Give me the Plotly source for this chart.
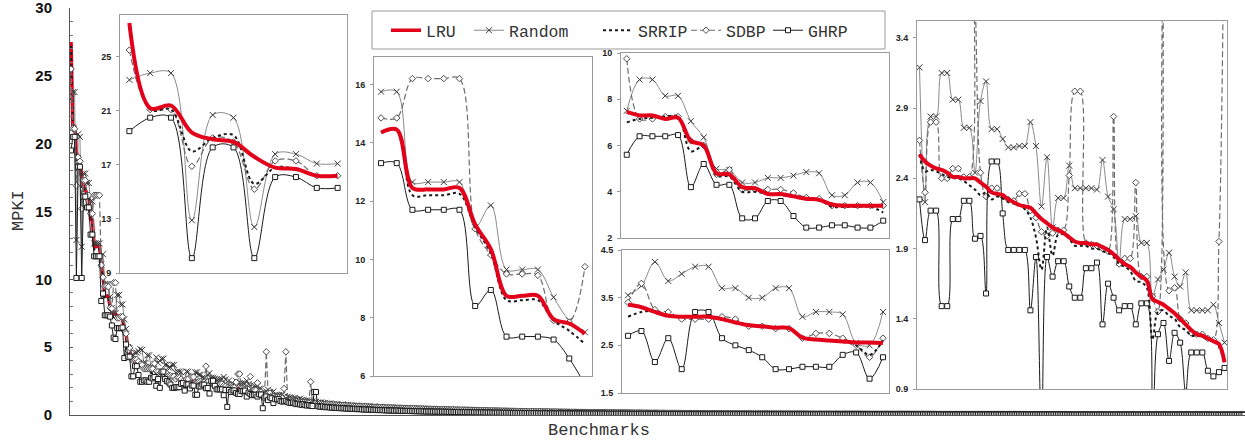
import plotly.graph_objects as go

# ---------------- data (MPKI per benchmark, sorted by LRU) ----------------
# Inset A : benchmarks 1-11
LRU_A = [27.5, 21.2, 21.4, 19.4, 18.9, 18.7, 17.6, 16.8, 16.7, 16.2, 16.2]
RANDOM_A = [23.3, 23.8, 23.8, 12.9, 20.7, 20.5, 12.4, 17.8, 17.8, 17.1, 17.1]
SRRIP_A = [27.2, 21.1, 21.1, 18.0, 19.0, 19.2, 15.6, 16.8, 16.7, 16.2, 16.2]
SDBP_A = [25.5, 21.1, 21.1, 16.9, 19.0, 18.7, 15.2, 17.3, 17.3, 16.2, 16.2]
GHRP_A = [19.5, 20.5, 20.5, 10.1, 18.3, 18.3, 10.1, 16.1, 16.1, 15.3, 15.3]

# Inset B : benchmarks 12-25
LRU_B = [14.35, 14.45, 12.45, 12.4, 12.4, 12.45, 11.2, 10.35, 8.75, 8.75, 8.75, 7.95, 7.8, 7.45]
RANDOM_B = [15.75, 15.75, 12.65, 12.65, 12.65, 12.65, 11.1, 11.85, 9.65, 9.65, 9.65, 8.7, 7.9, 7.5]
SRRIP_B = [14.35, 14.45, 12.2, 12.2, 12.2, 12.25, 11.1, 10.2, 8.6, 8.6, 8.6, 7.9, 7.55, 7.1]
SDBP_B = [14.85, 14.85, 16.2, 16.2, 16.2, 16.2, 11.05, 10.15, 9.5, 9.5, 9.45, 7.9, 7.85, 9.75]
GHRP_B = [13.3, 13.3, 11.7, 11.7, 11.7, 11.7, 8.4, 8.95, 7.35, 7.35, 7.35, 7.25, 6.6, 5.7]

# Inset C : benchmarks 26-46
LRU_C = [7.45, 7.3, 7.3, 7.15, 7.2, 6.2, 6.0, 4.8, 4.75, 4.2, 4.15, 3.9, 3.9, 3.8, 3.7, 3.65, 3.45, 3.4, 3.4, 3.4, 3.4]
RANDOM_C = [7.5, 8.85, 8.85, 8.15, 8.15, 7.05, 6.35, 5.0, 4.95, 4.4, 4.4, 4.6, 4.6, 4.7, 4.85, 4.8, 3.85, 3.85, 4.4, 4.4, 3.55]
SRRIP_C = [7.0, 7.15, 7.2, 7.25, 7.25, 5.75, 5.95, 4.7, 4.65, 4.0, 4.0, 3.9, 3.85, 3.8, 3.7, 3.65, 3.35, 3.35, 3.35, 3.35, 3.1]
SDBP_C = [9.75, 7.15, 7.15, 7.25, 7.25, 6.2, 6.0, 4.75, 4.95, 4.1, 4.1, 4.1, 4.1, 3.95, 3.75, 3.7, 3.4, 3.4, 3.4, 3.4, 3.4]
GHRP_C = [5.6, 6.4, 6.4, 6.4, 6.45, 4.2, 5.2, 4.3, 4.3, 2.85, 2.85, 3.6, 3.6, 2.95, 2.45, 2.45, 2.55, 2.55, 2.45, 2.45, 2.75]

# Inset D : benchmarks 47-66
LRU_D = [3.35, 3.3, 3.2, 3.12, 3.1, 3.1, 3.1, 3.05, 2.98, 2.92, 2.9, 2.87, 2.86, 2.66, 2.62, 2.6, 2.58, 2.56, 2.56, 2.55]
RANDOM_D = [3.55, 3.75, 4.25, 3.85, 4.0, 4.15, 4.15, 3.7, 3.7, 3.5, 3.5, 3.7, 3.7, 3.1, 3.2, 3.2, 3.15, 2.55, 2.5, 3.2]
SRRIP_D = [3.1, 3.2, 3.22, 3.12, 3.1, 3.1, 3.1, 3.05, 2.98, 2.92, 2.9, 2.87, 2.86, 2.66, 2.62, 2.6, 2.58, 2.5, 2.3, 2.6]
SDBP_D = [3.4, 3.8, 3.25, 3.2, 3.05, 3.05, 3.05, 3.1, 3.05, 2.9, 2.9, 2.85, 2.85, 2.65, 2.75, 2.75, 2.65, 2.5, 2.25, 2.65]
GHRP_D = [2.7, 2.8, 2.15, 2.65, 2.0, 3.2, 3.2, 2.65, 2.5, 2.4, 2.25, 2.0, 2.0, 2.05, 2.05, 2.05, 2.3, 2.35, 1.8, 2.25]

# Inset E : benchmarks 67-122
LRU_E = [2.57, 2.52, 2.49, 2.47, 2.46, 2.44, 2.41, 2.41, 2.40, 2.40,
         2.40, 2.37, 2.34, 2.30, 2.29, 2.28, 2.25, 2.23, 2.21, 2.20,
         2.19, 2.15, 2.11, 2.08, 2.05, 2.03, 2.01, 1.98, 1.95, 1.94,
         1.94, 1.93, 1.93, 1.91, 1.89, 1.86, 1.82, 1.79, 1.77, 1.73,
         1.70, 1.67, 1.54, 1.52, 1.50, 1.47, 1.44, 1.40, 1.36, 1.32,
         1.29, 1.28, 1.26, 1.24, 1.22, 1.09]
RANDOM_E = [3.19, 2.23, 2.84, 2.84, 3.15, 3.15, 2.96, 2.96, 2.76, 2.76,
            2.44, 2.95, 3.09, 2.75, 2.75, 2.68, 2.62, 2.62, 2.63, 2.63,
            2.80, 2.63, 2.20, 2.55, 2.05, 2.26, 2.26, 2.49, 2.33, 2.33,
            2.33, 2.33, 2.32, 2.53, 2.27, 2.18, 1.80, 2.11, 2.11, 2.13,
            1.94, 1.94, 1.56, 1.68, 1.75, 1.87, 1.70, 1.63, 1.73, 1.46,
            1.46, 1.46, 1.46, 1.50, 1.37, 1.23]
SRRIP_E = [2.57, 2.45, 2.46, 2.45, 2.43, 2.41, 2.40, 2.40, 2.38, 2.35,
           2.32, 2.28, 2.30, 2.25, 2.27, 2.26, 2.23, 2.22, 2.21, 2.18,
           2.12, 1.98, 1.75, 2.05, 1.85, 2.00, 2.00, 1.97, 1.92, 1.92,
           1.92, 1.90, 1.90, 1.88, 1.87, 1.84, 1.79, 1.77, 1.74, 1.67,
           1.66, 1.62, 1.25, 1.45, 1.46, 1.42, 1.40, 1.34, 1.32, 1.28,
           1.28, 1.27, 1.25, 1.24, 1.20, 1.10]
SDBP_E = [2.67, 2.30, 2.80, 2.80, 2.40, 2.40, 2.47, 2.47, 2.41, 2.41,
          3.60, 2.44, 2.27, 2.33, 2.33, 2.27, 2.25, 2.24, 2.29, 2.29,
          2.17, 2.12, 2.02, 1.99, 2.01, 2.03, 2.03, 2.42, 3.02, 3.02,
          1.94, 1.93, 1.92, 1.90, 1.88, 2.84, 1.79, 1.83, 1.83, 2.37,
          1.70, 1.70, 1.56, 1.45, 4.66, 1.60, 1.62, 1.40, 1.37, 1.30,
          1.29, 1.29, 1.26, 1.25, 1.95, 4.66]
GHRP_E = [2.25, 1.96, 2.17, 2.17, 1.49, 1.49, 2.11, 2.11, 2.24, 2.24,
          1.97, 1.99, 1.58, 2.52, 2.52, 2.15, 1.89, 1.89, 1.89, 1.89,
          1.46, 1.84, 0.60, 1.84, 1.70, 1.81, 1.81, 1.63, 1.55, 1.55,
          1.76, 1.76, 1.80, 1.36, 1.65, 1.55, 1.46, 1.49, 1.49, 1.36,
          1.51, 1.51, 0.50, 1.29, 1.37, 1.10, 1.30, 1.23, 0.88, 1.16,
          1.16, 1.16, 1.03, 0.99, 1.02, 1.05]

# Tail part 1 : benchmarks 123-222
LRU_T1 = [1.06, 1.04, 1.02, 1.00, 0.98, 0.97, 0.95, 0.94, 0.92, 0.91, 0.90, 0.88, 0.87, 0.86, 0.85, 0.84, 0.83, 0.82, 0.81, 0.80,
          0.79, 0.78, 0.77, 0.76, 0.75, 0.74, 0.73, 0.72, 0.71, 0.70, 0.69, 0.69, 0.68, 0.67, 0.66, 0.65, 0.65, 0.64, 0.63, 0.62,
          0.62, 0.61, 0.60, 0.60, 0.59, 0.58, 0.58, 0.57, 0.56, 0.56, 0.55, 0.55, 0.54, 0.53, 0.53, 0.52, 0.52, 0.51, 0.51, 0.50,
          0.50, 0.49, 0.49, 0.48, 0.48, 0.47, 0.47, 0.46, 0.46, 0.45, 0.45, 0.45, 0.44, 0.44, 0.43, 0.43, 0.43, 0.42, 0.42, 0.41,
          0.41, 0.41, 0.40, 0.40, 0.40, 0.39, 0.39, 0.39, 0.38, 0.38, 0.38, 0.37, 0.37, 0.37, 0.36, 0.36, 0.36, 0.35, 0.35, 0.35]
RANDOM_T1 = [1.35, 1.30, 1.28, 1.22, 1.25, 1.18, 1.15, 1.20, 1.12, 1.10, 1.05, 1.08, 1.02, 0.98, 1.00, 0.95, 0.97, 0.92, 0.90, 0.93,
             0.88, 0.90, 0.85, 0.83, 0.86, 0.80, 0.82, 0.78, 0.80, 0.76, 0.75, 0.78, 0.73, 0.72, 0.74, 0.70, 0.71, 0.69, 0.68, 0.70,
             0.67, 0.66, 0.68, 0.64, 0.65, 0.63, 0.64, 0.62, 0.61, 0.63, 0.60, 0.59, 0.61, 0.58, 0.57, 0.59, 0.56, 0.56, 0.57, 0.55,
             0.55, 0.54, 0.55, 0.53, 0.52, 0.53, 0.51, 0.51, 0.52, 0.50, 0.50, 0.49, 0.50, 0.48, 0.48, 0.49, 0.47, 0.47, 0.47, 0.46,
             0.46, 0.45, 0.46, 0.44, 0.44, 0.45, 0.43, 0.43, 0.43, 0.42, 0.42, 0.41, 0.42, 0.40, 0.40, 0.41, 0.39, 0.39, 0.39, 0.38]
SRRIP_T1 = [1.02, 1.01, 0.98, 0.97, 0.95, 0.95, 0.92, 0.92, 0.90, 0.89, 0.87, 0.86, 0.85, 0.84, 0.83, 0.82, 0.81, 0.80, 0.79, 0.78,
            0.77, 0.76, 0.75, 0.74, 0.73, 0.72, 0.71, 0.70, 0.69, 0.69, 0.68, 0.67, 0.66, 0.66, 0.65, 0.64, 0.63, 0.63, 0.62, 0.61,
            0.61, 0.60, 0.59, 0.59, 0.58, 0.57, 0.57, 0.56, 0.56, 0.55, 0.54, 0.54, 0.53, 0.53, 0.52, 0.52, 0.51, 0.51, 0.50, 0.50,
            0.49, 0.49, 0.48, 0.48, 0.47, 0.47, 0.46, 0.46, 0.45, 0.45, 0.44, 0.44, 0.44, 0.43, 0.43, 0.42, 0.42, 0.42, 0.41, 0.41,
            0.41, 0.40, 0.40, 0.39, 0.39, 0.39, 0.38, 0.38, 0.38, 0.37, 0.37, 0.37, 0.36, 0.36, 0.36, 0.35, 0.35, 0.35, 0.34, 0.34]
SDBP_T1 = [1.08, 1.05, 1.03, 1.00, 0.99, 0.97, 0.96, 0.95, 0.93, 0.92, 0.91, 0.89, 0.88, 2.45, 0.86, 0.85, 0.84, 0.83, 0.82, 0.81,
           0.80, 0.79, 0.78, 0.77, 0.76, 0.75, 0.74, 0.73, 0.72, 0.71, 0.70, 0.70, 0.69, 0.68, 0.67, 0.66, 0.66, 0.65, 0.64, 0.63,
           0.63, 0.62, 0.61, 0.61, 0.60, 0.59, 0.59, 0.58, 0.57, 0.57, 0.56, 0.56, 0.55, 0.54, 0.54, 0.53, 0.53, 0.52, 0.52, 0.51,
           0.51, 0.50, 0.50, 0.49, 0.49, 0.48, 0.48, 0.47, 0.47, 0.46, 0.46, 0.46, 0.45, 0.45, 0.44, 0.44, 0.44, 0.43, 0.43, 0.42,
           0.42, 0.42, 0.41, 0.41, 0.41, 0.40, 0.40, 0.40, 0.39, 0.39, 0.39, 0.38, 0.38, 0.38, 0.37, 0.37, 0.37, 0.36, 0.36, 0.36]
GHRP_T1 = [0.95, 0.90, 0.88, 0.92, 0.85, 0.80, 0.83, 0.78, 0.75, 0.80, 0.72, 0.70, 0.74, 0.68, 0.66, 1.70, 1.70, 0.65, 0.62, 0.60,
           0.63, 0.58, 0.57, 0.60, 0.55, 0.54, 0.56, 0.52, 0.51, 0.53, 0.50, 0.49, 0.51, 0.47, 0.46, 0.48, 0.45, 0.44, 0.46, 0.43,
           0.43, 0.44, 0.41, 0.41, 0.42, 0.39, 0.39, 0.40, 0.38, 0.37, 0.38, 0.36, 0.36, 0.37, 0.35, 0.34, 0.35, 0.33, 0.33, 0.34,
           0.32, 0.32, 0.33, 0.31, 0.31, 0.31, 0.30, 0.30, 0.30, 0.29, 0.29, 0.29, 0.28, 0.28, 0.28, 0.27, 0.27, 0.27, 0.26, 0.26,
           0.26, 0.26, 0.25, 0.25, 0.25, 0.25, 0.24, 0.24, 0.24, 0.24, 0.23, 0.23, 0.23, 0.23, 0.22, 0.22, 0.22, 0.22, 0.21, 0.21]

# Tail part 2 : benchmarks 223-662, run-length (MPKI in hundredths, count)
LRU_T2_RUNS = [(35, 1), (34, 3), (33, 3), (32, 3), (31, 3), (30, 4), (29, 3), (28, 4), (27, 4), (26, 4), (25, 4), (24, 4),
               (23, 5), (22, 5), (21, 5), (20, 5), (19, 6), (18, 6), (17, 6), (16, 6), (15, 7), (14, 7), (13, 8), (12, 8),
               (11, 9), (10, 10), (9, 12), (8, 13), (7, 32), (6, 60), (5, 50), (4, 50), (3, 50), (2, 40)]
RANDOM_T2_RUNS = [(40, 1), (39, 2), (38, 2), (37, 2), (36, 3), (35, 3), (34, 3), (33, 3), (32, 4), (31, 4), (30, 4), (29, 4),
                  (28, 5), (27, 5), (26, 5), (25, 5), (24, 6), (23, 6), (22, 6), (21, 7), (20, 7), (19, 8), (18, 8), (17, 9),
                  (16, 10), (15, 11), (14, 12), (13, 14), (12, 16), (11, 20), (10, 30), (9, 40), (8, 50), (7, 60), (6, 65)]
SRRIP_T2_RUNS = [(34, 2), (33, 3), (32, 3), (31, 3), (30, 3), (29, 4), (28, 4), (27, 4), (26, 4), (25, 4), (24, 4), (23, 4),
                 (22, 5), (21, 5), (20, 5), (19, 6), (18, 6), (17, 6), (16, 6), (15, 7), (14, 7), (13, 8), (12, 8), (11, 9),
                 (10, 10), (9, 12), (8, 13), (7, 32), (6, 60), (5, 50), (4, 50), (3, 50), (2, 43)]
SDBP_T2_RUNS = [(36, 2), (35, 2), (34, 3), (33, 3), (32, 3), (31, 3), (30, 4), (29, 3), (28, 4), (27, 4), (26, 4), (25, 4),
                (24, 4), (23, 5), (22, 5), (21, 5), (20, 5), (19, 6), (18, 6), (17, 6), (16, 6), (15, 7), (14, 7), (13, 8),
                (12, 8), (11, 9), (10, 10), (9, 12), (8, 13), (7, 32), (6, 60), (5, 50), (4, 50), (3, 50), (2, 37)]
GHRP_T2_RUNS = [(21, 3), (20, 4), (19, 4), (18, 5), (17, 5), (16, 6), (15, 6), (14, 7), (13, 8), (12, 9), (11, 10), (10, 12),
                (9, 14), (8, 16), (7, 20), (6, 30), (5, 50), (4, 60), (3, 70), (2, 80), (1, 21)]

SERIES_NAMES = ["LRU", "Random", "SRRIP", "SDBP", "GHRP"]
Y_TICKS_MAIN = [0, 5, 10, 15, 20, 25, 30]
INSET_TICKS = [[9, 13, 17, 21, 25], [6, 8, 10, 12, 14, 16], [2, 4, 6, 8, 10],
               [1.5, 2.5, 3.5, 4.5], [0.9, 1.4, 1.9, 2.4, 2.9, 3.4]]
INSET_YRANGE = [[9, 28.1], [6, 16.94], [2, 10], [1.5, 4.5], [0.9, 3.52]]


def expand(runs):
    out = []
    for v, n in runs:
        out.extend([v / 100.0] * n)
    return out


DATA = {
    "LRU": [LRU_A, LRU_B, LRU_C, LRU_D, LRU_E, LRU_T1, expand(LRU_T2_RUNS)],
    "Random": [RANDOM_A, RANDOM_B, RANDOM_C, RANDOM_D, RANDOM_E, RANDOM_T1, expand(RANDOM_T2_RUNS)],
    "SRRIP": [SRRIP_A, SRRIP_B, SRRIP_C, SRRIP_D, SRRIP_E, SRRIP_T1, expand(SRRIP_T2_RUNS)],
    "SDBP": [SDBP_A, SDBP_B, SDBP_C, SDBP_D, SDBP_E, SDBP_T1, expand(SDBP_T2_RUNS)],
    "GHRP": [GHRP_A, GHRP_B, GHRP_C, GHRP_D, GHRP_E, GHRP_T1, expand(GHRP_T2_RUNS)],
}

# ---------------- layout geometry (pixels) ----------------
W, H = 1245, 440
ML, MR, MT, MB = 70, 0, 8, 25
PW, PH = W - ML - MR, H - MT - MB


def fx(p):
    return (p - ML) / PW


def fy(p):
    return (H - MB - p) / PH


# inset plot boxes: (left, right, top, bottom) in px
INSET_BOX = [(120, 347, 15, 273), (374, 592, 57, 376), (621, 889, 53, 238),
             (622, 889, 250, 393), (917, 1227, 21, 389)]
# legend entry left edges (px) for LRU, Random, SRRIP, SDBP, GHRP
LEGEND_X = [386, 469, 598, 686, 768]

RED = "#e2001a"
STY = {
    "Random": dict(mode="lines+markers", line=dict(color="#8a8a8a", width=1),
                   marker=dict(symbol="x-thin", size=6, line=dict(width=1, color="#3a3a3a"))),
    "SDBP": dict(mode="lines+markers", line=dict(color="#6e6e6e", width=1.2, dash="6px,3px"),
                 marker=dict(symbol="diamond", size=5, color="white", line=dict(width=1, color="#4a4a4a"))),
    "GHRP": dict(mode="lines+markers", line=dict(color="#1a1a1a", width=1),
                 marker=dict(symbol="square", size=5, color="white", line=dict(width=1, color="#1a1a1a"))),
    "SRRIP": dict(mode="lines", line=dict(color="#1a1a1a", width=2, dash="dot")),
    "LRU": dict(mode="lines", line=dict(color=RED, width=3.5)),
}
MAIN_ORDER = ["LRU", "SRRIP", "Random", "SDBP", "GHRP"]
INSET_ORDER = ["Random", "SDBP", "GHRP", "SRRIP", "LRU"]
LEGEND_ID = {n: ("legend" if i == 0 else "legend%d" % (i + 1)) for i, n in enumerate(SERIES_NAMES)}
MONO = "Liberation Mono, Courier New, monospace"

fig = go.Figure()

# main plot
for name in MAIN_ORDER:
    full = []
    for part in DATA[name]:
        full = full + list(part)
    s = STY[name]
    fig.add_trace(go.Scatter(
        x=list(range(len(full))), y=full, name=name, mode=s["mode"],
        line=s["line"], marker=s.get("marker"), legend=LEGEND_ID[name],
        showlegend=True, xaxis="x", yaxis="y", hoverinfo="skip"))

# insets
for k in range(5):
    ax = k + 2
    for name in INSET_ORDER:
        seg = DATA[name][k]
        s = STY[name]
        line = dict(s["line"])
        if name == "LRU":
            line["width"] = 4
        line["shape"] = "spline"
        line["smoothing"] = 1.0
        fig.add_trace(go.Scatter(
            x=list(range(len(seg))), y=seg, name=name, mode=s["mode"],
            line=line, marker=s.get("marker"), showlegend=False,
            xaxis="x%d" % ax, yaxis="y%d" % ax, hoverinfo="skip"))

N = sum(len(p) for p in DATA["LRU"])

layout = dict(
    width=W, height=H, margin=dict(l=ML, r=MR, t=MT, b=MB, pad=0),
    paper_bgcolor="white", plot_bgcolor="white", showlegend=True,
    xaxis=dict(domain=[0, 1], range=[-0.6, N - 0.6], showticklabels=False, ticks="",
               showgrid=False, zeroline=False, showline=True, linecolor="#555", linewidth=1),
    yaxis=dict(domain=[0, 1], range=[0, 30], tickvals=Y_TICKS_MAIN, ticks="inside", ticklen=3,
               tickcolor="#555", showgrid=False, zeroline=False, showline=True, linecolor="#555",
               linewidth=1, ticklabelstandoff=14, ticklabeloverflow="allow",
               tickfont=dict(family="Liberation Sans, Arial", size=15, color="#111", weight="bold"),
               minor=dict(dtick=1, ticks="inside", ticklen=3, tickcolor="#777")),
    shapes=[dict(type="rect", xref="paper", yref="paper", x0=fx(372), x1=fx(885), y0=fy(49), y1=fy(11),
                 line=dict(color="#9a9a9a", width=1), fillcolor="white", layer="below")],
    annotations=[
        dict(text="MPKI", xref="paper", yref="paper", x=fx(19), y=fy(211), showarrow=False,
             xanchor="center", yanchor="middle", textangle=-90,
             font=dict(family=MONO, size=17, color="#333")),
        dict(text="Benchmarks", xref="paper", yref="paper", x=fx(599), y=fy(430), showarrow=False,
             xanchor="center", yanchor="middle",
             font=dict(family=MONO, size=17, color="#333")),
    ],
)

for i, name in enumerate(SERIES_NAMES):
    layout[LEGEND_ID[name]] = dict(
        orientation="h", x=fx(LEGEND_X[i]), y=fy(13), xanchor="left", yanchor="top",
        font=dict(family=MONO, size=16.5, color="#333"),
        bgcolor="rgba(0,0,0,0)", borderwidth=0, itemwidth=30)

for k in range(5):
    ax = k + 2
    l, r, t, b = INSET_BOX[k]
    npts = len(DATA["LRU"][k])
    layout["xaxis%d" % ax] = dict(domain=[fx(l), fx(r)], anchor="y%d" % ax,
                                  range=[-0.45, npts - 1 + 0.45], showticklabels=False, ticks="",
                                  showgrid=False, zeroline=False, showline=True, mirror=True,
                                  linecolor="#9a9a9a", linewidth=1)
    layout["yaxis%d" % ax] = dict(domain=[fy(b), fy(t)], anchor="x%d" % ax,
                                  range=INSET_YRANGE[k], tickvals=INSET_TICKS[k], ticks="outside",
                                  ticklen=3, tickcolor="#9a9a9a", showgrid=False, zeroline=False,
                                  showline=True, mirror=True, linecolor="#9a9a9a", linewidth=1,
                                  ticklabelstandoff=3,
                                  tickfont=dict(family="Liberation Sans, Arial", size=9, color="#222",
                                                weight="bold"))

fig.update_layout(**layout)
fig.write_html("out.html", config={"displayModeBar": False},
               post_script="document.body.style.margin='0px';")
